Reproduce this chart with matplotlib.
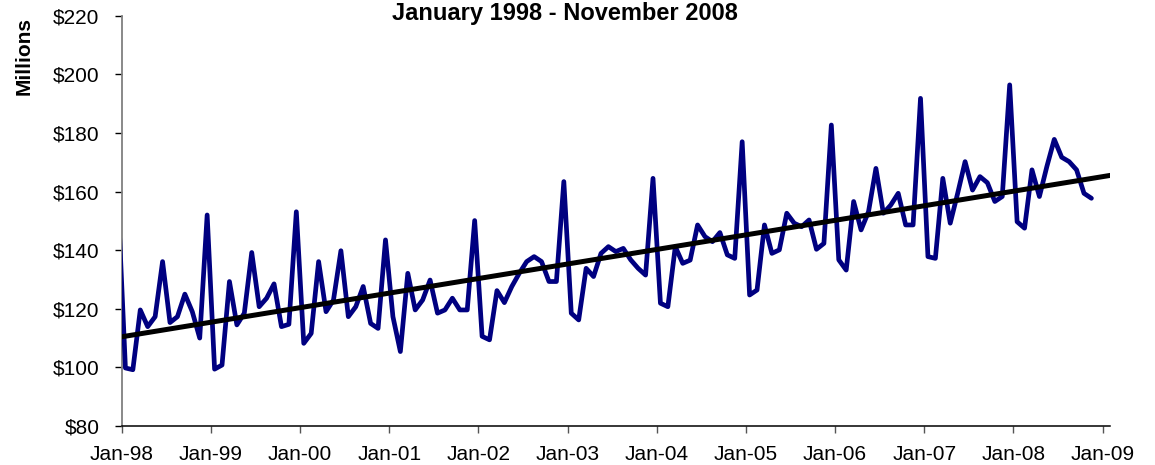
import numpy as np
import matplotlib
matplotlib.use("Agg")
import matplotlib.pyplot as plt
from matplotlib.ticker import FuncFormatter, FixedLocator

plt.rcParams['font.family'] = ['Liberation Sans', 'DejaVu Sans']

# Monthly values (millions of $); first value is Dec-97 (clipped at axis start)
dec_1997 = [157.0]
y1998 = [99.8, 99.2, 119.6, 113.9, 117.3, 136.1, 115.3, 117.3, 125.0, 119.0, 110.0, 152.0]
y1999 = [99.4, 100.8, 129.3, 114.5, 118.5, 139.2, 120.7, 123.6, 128.5, 113.9, 114.7, 153.1]
y2000 = [108.2, 111.6, 136.1, 119.0, 123.0, 139.8, 117.3, 120.7, 127.6, 115.0, 113.3, 143.5]
y2001 = [117.3, 105.4, 132.1, 119.6, 123.0, 129.8, 118.5, 119.6, 123.6, 119.6, 119.6, 150.1]
y2002 = [110.6, 109.4, 126.2, 122.1, 127.6, 132.1, 136.1, 137.8, 136.1, 129.3, 129.3, 163.4]
y2003 = [118.5, 116.2, 133.8, 131.0, 138.9, 141.2, 139.5, 140.6, 136.7, 133.8, 131.5, 164.5]
y2004 = [121.9, 120.7, 141.2, 135.5, 136.6, 148.6, 144.6, 142.9, 146.0, 138.4, 137.2, 177.0]
y2005 = [124.7, 126.4, 148.6, 138.9, 140.1, 152.6, 149.2, 148.0, 150.3, 140.3, 142.3, 182.7]
y2006 = [136.7, 133.2, 156.6, 146.9, 153.1, 167.9, 152.6, 155.4, 159.4, 148.6, 148.6, 191.8]
y2007 = [137.8, 137.2, 164.5, 149.2, 159.4, 170.2, 160.5, 165.1, 163.0, 156.6, 158.3, 196.4]
y2008 = [149.7, 147.5, 167.4, 158.3, 168.5, 177.8, 171.7, 170.2, 167.4, 159.4, 157.7]

tick_labels = ["Jan-98", "Jan-99", "Jan-00", "Jan-01", "Jan-02", "Jan-03",
               "Jan-04", "Jan-05", "Jan-06", "Jan-07", "Jan-08", "Jan-09"]
title = "January 1998 - November 2008"
ylabel = "Millions"

values = np.array(dec_1997 + y1998 + y1999 + y2000 + y2001 + y2002 + y2003 +
                  y2004 + y2005 + y2006 + y2007 + y2008)
# months since Jan-98; points centred within their month
x = np.arange(len(values)) - 1 + 0.5

W, H = 1155, 465
fig = plt.figure(figsize=(W / 100, H / 100), dpi=100)
ax = fig.add_axes([121.7 / W, 1 - 426 / H, (1110 - 121.7) / W, (426 - 15.7) / H])

ax.plot(x, values, color="#000080", lw=3.4, solid_joinstyle="round",
        solid_capstyle="round", zorder=3)

# linear trend over Jan-98 .. Nov-08
fit_x = x[1:]
fit_y = values[1:]
slope, intercept = np.polyfit(fit_x, fit_y, 1)
tx = np.array([-1.0, 134.0])
ax.plot(tx, slope * tx + intercept, color="black", lw=3.6, zorder=4)

ax.set_xlim(0, 133)
ax.set_ylim(80, 220)
ax.xaxis.set_major_locator(FixedLocator(np.arange(0, 133, 12)))
ax.set_xticklabels(tick_labels)
ax.set_yticks(np.arange(80, 221, 20))
ax.yaxis.set_major_formatter(FuncFormatter(lambda v, p: f"${v:.0f}"))

for s in ("top", "right"):
    ax.spines[s].set_visible(False)
ax.spines["left"].set_color("#808080")
ax.spines["left"].set_linewidth(1.3)
ax.spines["bottom"].set_color("black")
ax.spines["bottom"].set_linewidth(1.1)

ax.tick_params(axis="y", direction="out", length=5, width=1.0, color="black",
               labelsize=15, pad=11)
ax.tick_params(axis="x", direction="out", length=5, width=1.0, color="#555555",
               labelsize=15, pad=9)

fig.text(565 / W, 1 - 20 / H, title, ha="center", va="baseline",
         fontsize=17, fontweight="bold")
fig.text(24 / W, 1 - 56 / H, ylabel, ha="center", va="center", rotation=90,
         fontsize=15, fontweight="bold")

fig.savefig("out.png", dpi=100)
